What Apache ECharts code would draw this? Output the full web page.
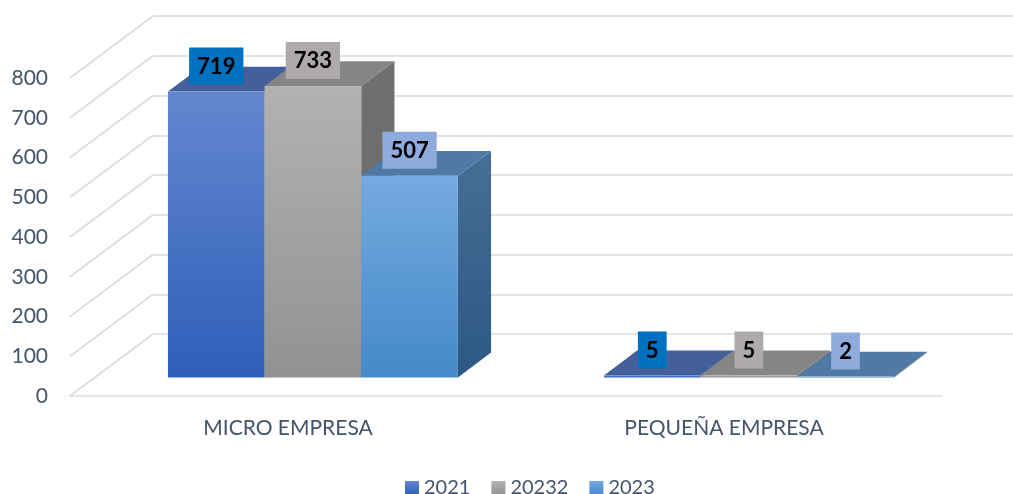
<!DOCTYPE html>
<html>
<head>
<meta charset="utf-8">
<script src="https://cdn.jsdelivr.net/npm/echarts@6/dist/echarts.min.js"></script>
<style>
  html, body { margin: 0; padding: 0; background: #fff; }
  #chart { width: 1013px; height: 494px; }
</style>
</head>
<body>
<div id="chart"></div>
<script>
// Chart data
const categories = ['MICRO EMPRESA', 'PEQUEÑA EMPRESA'];
const seriesNames = ['2021', '20232', '2023'];
const values2021 = [719, 5];
const values20232 = [733, 5];
const values2023 = [507, 2];
const yTicks = [0, 100, 200, 300, 400, 500, 600, 700, 800];

const seriesValues = [values2021, values20232, values2023];

// Pseudo-3D look: full depth of the floor, and where the bars sit inside it
const DX = 83, DY = 62;
const BAR_FRONT = 0.3, BAR_BACK = 0.7;
const GROUP = 0.665;

const FONT = 'Lato, "Open Sans", sans-serif';
const TEXT_COLOR = '#44546a';
const GRID_COLOR = '#d9dce1';

// Face colours per series: front gradient (top, bottom), top face, side gradient
const palette = [
  { front: ['#6486cf', '#2e5fb9'], top: '#43609b', side: ['#39579a', '#2a4a85'], label: '#0070c0' },
  { front: ['#b2b2b2', '#929292'], top: '#858585', side: ['#707070', '#6a6a6a'], label: '#aeaaaa' },
  { front: ['#74aadf', '#4489c9'], top: '#5079a6', side: ['#476e96', '#2c5883'], label: '#8faadc' }
];

function vGrad(c) {
  return new echarts.graphic.LinearGradient(0, 0, 0, 1, [
    { offset: 0, color: c[0] }, { offset: 1, color: c[1] }
  ]);
}

function makeBarRenderer(sIdx) {
  const p = palette[sIdx];
  return function (params, api) {
    const cat = api.value(0);
    const val = api.value(1);
    const base = api.coord([cat, 0]);
    const topPt = api.coord([cat, val]);
    const band = api.size([1, 0])[0];
    const bw = band * GROUP / 3;
    const fx = BAR_FRONT * DX, fy = BAR_FRONT * DY;
    const dx = (BAR_BACK - BAR_FRONT) * DX, dy = (BAR_BACK - BAR_FRONT) * DY;
    const x0 = base[0] - band * GROUP / 2 + sIdx * bw + fx;
    const x1 = x0 + bw;
    const yb = base[1] - fy;
    const yt = topPt[1] - fy;
    return {
      type: 'group',
      children: [
        {
          type: 'polygon',
          shape: { points: [[x1, yt], [x1 + dx, yt - dy], [x1 + dx, yb - dy], [x1, yb]] },
          style: { fill: vGrad(p.side) }
        },
        {
          type: 'polygon',
          shape: { points: [[x0, yt], [x1, yt], [x1 + dx, yt - dy], [x0 + dx, yt - dy]] },
          style: { fill: p.top }
        },
        {
          type: 'rect',
          shape: { x: x0, y: yt, width: bw, height: Math.max(yb - yt, 1) },
          style: { fill: vGrad(p.front) }
        },
        {
          type: 'text',
          x: (x0 + x1) / 2,
          y: yt - 7,
          z2: 100,
          style: {
            text: String(val),
            fill: '#000',
            font: 'bold 22px ' + FONT,
            align: 'center',
            verticalAlign: 'bottom',
            backgroundColor: p.label,
            padding: [8, 8, 7, 8],
            lineHeight: 22
          }
        }
      ]
    };
  };
}

// Left wall: diagonal grid lines from the front plane to the back wall
function renderWall(params, api) {
  const v = api.value(1);
  const c = api.coord([0, v]);
  const left = c[0] - api.size([1, 0])[0] / 2;
  return {
    type: 'line',
    shape: { x1: left, y1: c[1], x2: left + DX, y2: c[1] - DY },
    style: { stroke: GRID_COLOR, lineWidth: 1.6 }
  };
}

const chart = echarts.init(document.getElementById('chart'), null, { renderer: 'canvas' });

const series = [
  {
    type: 'custom',
    name: '_wall',
    xAxisIndex: 0, yAxisIndex: 0,
    renderItem: renderWall,
    data: yTicks.map(v => [0, v]),
    silent: true,
    z: 1
  }
];
seriesNames.forEach((name, i) => {
  series.push({
    type: 'custom',
    name: name,
    xAxisIndex: 0, yAxisIndex: 0,
    renderItem: makeBarRenderer(i),
    itemStyle: { color: vGrad(palette[i].front) },
    data: seriesValues[i].map((v, k) => [k, v]),
    z: 2
  });
});

chart.setOption({
  animation: false,
  backgroundColor: '#fff',
  legend: {
    data: seriesNames,
    left: 400,
    top: 473,
    icon: 'rect',
    itemWidth: 14,
    itemHeight: 14,
    itemGap: 21,
    textStyle: { color: TEXT_COLOR, fontSize: 20, fontFamily: FONT }
  },
  grid: [
    { left: 70, right: 71, top: 78, bottom: 98 },
    { left: 70 + DX, right: 71 - DX, top: 78 - DY, bottom: 98 + DY }
  ],
  xAxis: [
    {
      type: 'category',
      gridIndex: 0,
      data: categories,
      axisLine: { show: true, lineStyle: { color: GRID_COLOR, width: 1.6 } },
      axisTick: { show: false },
      axisLabel: { color: TEXT_COLOR, fontSize: 21, fontFamily: FONT, margin: 22 }
    },
    {
      type: 'category',
      gridIndex: 1,
      data: categories,
      show: false
    }
  ],
  yAxis: [
    {
      type: 'value',
      gridIndex: 0,
      min: 0, max: 800, interval: 100,
      axisLine: { show: false },
      axisTick: { show: false },
      splitLine: { show: false },
      axisLabel: { color: TEXT_COLOR, fontSize: 21, fontFamily: FONT, margin: 22 }
    },
    {
      type: 'value',
      gridIndex: 1,
      min: 0, max: 800, interval: 100,
      axisLine: { show: false },
      axisTick: { show: false },
      axisLabel: { show: false },
      splitLine: { show: true, lineStyle: { color: GRID_COLOR, width: 1.6 } }
    }
  ],
  series: series
});
</script>
</body>
</html>
